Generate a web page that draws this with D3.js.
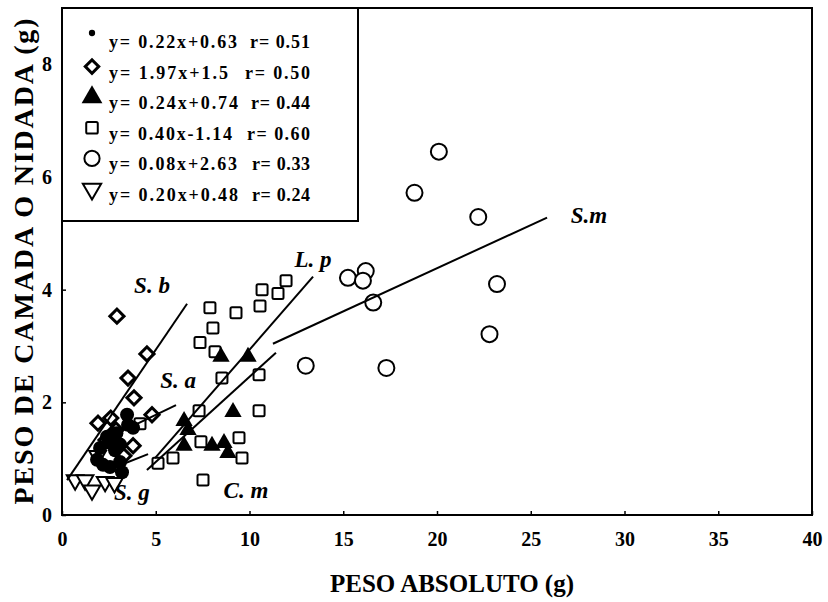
<!DOCTYPE html>
<html><head><meta charset="utf-8">
<script src="https://cdn.jsdelivr.net/npm/d3@7"></script>
<style>
body{margin:0;background:#fff}
svg text{font-family:"Liberation Serif","Times New Roman",serif;font-weight:bold;fill:#000}
</style>
</head><body><svg id="chart" width="828" height="602"></svg>
<script>
// Axis ticks
const xTicks = [0, 5, 10, 15, 20, 25, 30, 35, 40];
const yTicks = [0, 2, 4, 6, 8];

// Open circles
const circlePts = [[20.1,6.45],[18.8,5.72],[22.2,5.29],[15.25,4.21],[16.2,4.33],[16.05,4.16],
  [23.2,4.10],[16.6,3.77],[22.8,3.21],[13.0,2.65],[17.3,2.61]];
// Open squares
const squarePts = [[11.95,4.16],[11.52,3.93],[10.67,4.00],[10.56,3.71],[7.89,3.68],[9.28,3.59],
  [8.05,3.32],[7.36,3.06],[8.16,2.90],[8.53,2.43],[10.51,2.49],[7.31,1.85],[10.51,1.85],
  [7.41,1.30],[9.44,1.37],[9.60,1.01],[5.12,0.92],[5.92,1.01],[7.52,0.62],[4.16,1.62]];
// Filled triangles
const trianglePts = [[8.48,2.81],[9.92,2.81],[9.12,1.83],[6.51,1.67],[6.72,1.51],[6.51,1.23],
  [8.0,1.23],[8.64,1.28],[8.85,1.10]];
// Diamonds
const diamondPts = [[2.93,3.53],[4.53,2.86],[3.52,2.43],[3.84,2.08],[4.80,1.78],[1.92,1.63],
  [3.79,1.23],[2.35,1.33],[2.88,1.51],[2.6,1.72],[3.3,1.05]];
// Filled dots
const dotPts = [[3.47,1.78],[3.52,1.60],[3.79,1.55],[2.40,1.39],[2.56,1.28],[2.03,1.19],
  [2.83,1.15],[1.87,0.98],[2.19,0.89],[2.56,0.85],[3.09,0.94],[3.20,0.76],[2.9,1.45],[3.1,1.25]];
// Open down-pointing triangles
const downTriPts = [[0.7,0.62],[1.23,0.62],[1.6,0.44],[2.3,0.59],[2.8,0.57],[1.9,1.05]];

// Fitted lines per species: [x1, y1, x2, y2]
const fitLines = [
  {name:"S.m", seg:[11.25,3.04,25.87,5.28]},
  {name:"L.p", seg:[4.96,1.01,13.39,4.23]},
  {name:"C.m", seg:[4.53,0.80,11.41,2.88]},
  {name:"S.b", seg:[0.27,0.62,6.67,3.75]},
  {name:"S.a", seg:[3.89,1.60,6.08,1.95]},
  {name:"S.g", seg:[2.99,0.87,4.59,1.08]}
];
// Species labels: [text, x, y] (label centre)
const speciesLabels = [["S. b",4.8,4.07],["S. a",6.19,2.38],["L. p",13.39,4.53],
  ["S.m",28.1,5.31],["S. g",3.73,0.39],["C. m",9.81,0.44]];

// Legend rows: marker, equation, correlation
const legendKinds = ["dot","diamond","triangle","square","circle","downTri"];
const legendEqs = ["y= 0.22x+0.63","y= 1.97x+1.5","y= 0.24x+0.74","y= 0.40x-1.14","y= 0.08x+2.63","y= 0.20x+0.48"];
const legendRs = ["r= 0.51","r= 0.50","r= 0.44","r= 0.60","r= 0.33","r= 0.24"];

const svg = d3.select("#chart");
const pLeft = 62, pRight = 812, pTop = 8, pBottom = 515;
const x = d3.scaleLinear([0, 40], [pLeft, pRight]);
const y = d3.scaleLinear([0, 9], [pBottom, pTop]);

// plot frame
svg.append("rect").attr("x", pLeft).attr("y", pTop).attr("width", pRight - pLeft).attr("height", pBottom - pTop)
  .attr("fill", "none").attr("stroke", "#000").attr("stroke-width", 2);

// axes: labels outside, short ticks inside
const xa = svg.append("g").attr("transform", `translate(0,${pBottom})`)
  .call(d3.axisBottom(x).tickValues(xTicks).tickSizeOuter(0).tickSizeInner(-4).tickPadding(17).tickFormat(d3.format("d")));
xa.select(".domain").remove();
xa.selectAll("text").attr("font-size", 20).style("font-family", "Liberation Serif").style("font-weight", "bold");
const ya = svg.append("g").attr("transform", `translate(${pLeft},0)`)
  .call(d3.axisLeft(y).tickValues(yTicks).tickSizeOuter(0).tickSizeInner(-4).tickPadding(10).tickFormat(d3.format("d")));
ya.select(".domain").remove();
ya.selectAll("text").attr("font-size", 20).style("font-family", "Liberation Serif").style("font-weight", "bold");
svg.selectAll(".tick line").attr("stroke", "#000").attr("stroke-width", 1.5);

// axis titles
svg.append("text").attr("x", 452).attr("y", 592).attr("text-anchor", "middle")
  .attr("font-size", 25).text("PESO ABSOLUTO (g)");
svg.append("text").attr("transform", `translate(33,${(pTop + pBottom) / 2}) rotate(-90)`).attr("text-anchor", "middle")
  .attr("font-size", 28).attr("textLength", 486).attr("lengthAdjust", "spacing").text("PESO DE CAMADA O NIDADA (g)");

// marker drawing
function marker(g, kind, scale) {
  const s = scale || 1;
  if (kind === "circle") return g.append("circle").attr("r", 8*s).attr("fill", "#fff").attr("stroke", "#000").attr("stroke-width", 2);
  if (kind === "dot") return g.append("circle").attr("r", 7*s).attr("fill", "#000");
  if (kind === "square") return g.append("rect").attr("x", -5.5*s).attr("y", -5.5*s).attr("width", 11*s).attr("height", 11*s)
    .attr("rx", 1.5*s).attr("fill", "#fff").attr("stroke", "#000").attr("stroke-width", 2);
  if (kind === "diamond") return g.append("rect").attr("x", -5*s).attr("y", -5*s).attr("width", 10*s).attr("height", 10*s)
    .attr("transform", "rotate(45)").attr("fill", "#fff").attr("stroke", "#000").attr("stroke-width", 3);
  if (kind === "triangle") return g.append("path").attr("d", d3.symbol(d3.symbolTriangle, 130*s*s)()).attr("fill", "#000");
  if (kind === "downTri") return g.append("path").attr("d", d3.symbol(d3.symbolTriangle, 120*s*s)())
    .attr("transform", "rotate(180)").attr("fill", "#fff").attr("stroke", "#000").attr("stroke-width", 2);
}

const plot = svg.append("g");
function drawSeries(pts, kind) {
  pts.forEach(p => {
    const g = plot.append("g").attr("transform", `translate(${x(p[0])},${y(p[1])})`);
    marker(g, kind);
  });
}
drawSeries(squarePts, "square");
drawSeries(circlePts, "circle");
drawSeries(downTriPts, "downTri");
drawSeries(diamondPts, "diamond");
drawSeries(dotPts, "dot");
drawSeries(trianglePts, "triangle");

// regression lines
plot.selectAll("line.fit").data(fitLines).join("line").attr("class", "fit")
  .attr("x1", d => x(d.seg[0])).attr("y1", d => y(d.seg[1]))
  .attr("x2", d => x(d.seg[2])).attr("y2", d => y(d.seg[3]))
  .attr("stroke", "#000").attr("stroke-width", 2);

// species labels
plot.selectAll("text.sp").data(speciesLabels).join("text").attr("class", "sp")
  .attr("x", d => x(d[1])).attr("y", d => y(d[2])).attr("dy", "0.32em").attr("text-anchor", "middle")
  .attr("font-size", 23).attr("font-style", "italic").text(d => d[0]);

// legend box
const lg = svg.append("g");
lg.append("rect").attr("x", pLeft).attr("y", pTop).attr("width", 296).attr("height", 213)
  .attr("fill", "#fff").attr("stroke", "#000").attr("stroke-width", 2);
const eqLen = [128, 119, 129, 123, 128, 129];
const rX = [250, 245, 251, 247, 252, 252];
const legendScale = {dot: 0.45, diamond: 0.95, triangle: 1.2, square: 1.05, circle: 0.95, downTri: 1.1};
legendKinds.forEach((k, i) => {
  const cy = 42 + i * 30.6;
  const g = lg.append("g").attr("transform", `translate(92,${k === "dot" ? cy - 9 : cy - 6})`);
  marker(g, k, legendScale[k]);
  lg.append("text").attr("x", 109).attr("y", cy + 6).attr("font-size", 18)
    .attr("textLength", eqLen[i]).attr("lengthAdjust", "spacing").text(legendEqs[i]);
  lg.append("text").attr("x", rX[i]).attr("y", cy + 6).attr("font-size", 18)
    .attr("textLength", 310 - rX[i]).attr("lengthAdjust", "spacing").text(legendRs[i]);
});
</script></body></html>
